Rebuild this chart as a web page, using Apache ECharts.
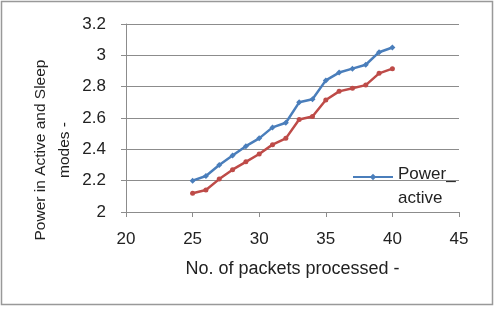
<!DOCTYPE html>
<html>
<head>
<meta charset="utf-8">
<script src="https://cdn.jsdelivr.net/npm/echarts@6/dist/echarts.min.js"></script>
<style>
    html, body { margin: 0; padding: 0; background: #fff; }
    #chart { width: 495px; height: 310px; }
</style>
</head>
<body>
<div id="chart"></div>
<script>
// packets processed (x)
const packets = [25, 26, 27, 28, 29, 30, 31, 32, 33, 34, 35, 36, 37, 38, 39, 40]
// power values
const powerActive = [2.20, 2.23, 2.30, 2.36, 2.42, 2.47, 2.54, 2.57, 2.70, 2.72, 2.84, 2.89, 2.915, 2.94, 3.02, 3.05]
const powerSleep = [2.12, 2.14, 2.21, 2.27, 2.32, 2.37, 2.43, 2.47, 2.59, 2.61, 2.715, 2.77, 2.79, 2.81, 2.885, 2.915]

const FONT = 'Liberation Sans'
const FS = 17
const TXT = '#222'

function pairs(xs, ys) {
    return xs.map((x, i) => [x, ys[i]])
}

let myChart = echarts.init(document.getElementById('chart'))

let option = {
    animation: false,
    textStyle: { fontFamily: FONT },
    graphic: [{
        type: 'rect',
        shape: { x: 1.5, y: 1.5, width: 491, height: 303 },
        style: { fill: 'none', stroke: '#999', lineWidth: 1.5 },
        silent: true
    }],
    grid: { left: 126, right: 36, top: 24, bottom: 98, outerBoundsMode: 'none' },
    legend: {
        data: ['Power_active'],
        left: 347,
        top: 143,
        itemWidth: 40,
        itemHeight: 8,
        itemGap: 4,
        // 图例文字折成两行, 第一行与图标对齐
        formatter: () => '{e| }\n{p|Power_}\n{p|active}',
        textStyle: {
            fontFamily: FONT, fontSize: FS, color: TXT,
            rich: {
                e: { lineHeight: 18, fontSize: 10 },
                p: { lineHeight: 24, fontSize: FS, fontFamily: FONT, color: TXT }
            }
        }
    },
    xAxis: {
        type: 'value',
        min: 20,
        max: 45,
        interval: 5,
        name: 'No. of packets processed -',
        nameLocation: 'middle',
        nameGap: 48,
        nameMoveOverlap: false,
        nameTextStyle: { fontFamily: FONT, fontSize: 18, color: TXT },
        axisLine: { lineStyle: { color: '#8c8c8c', width: 1 } },
        axisTick: { length: 5, lineStyle: { color: '#8c8c8c' } },
        axisLabel: { fontFamily: FONT, fontSize: FS, color: TXT, margin: 19 },
        splitLine: { show: false }
    },
    yAxis: {
        type: 'value',
        min: 2,
        max: 3.2,
        interval: 0.2,
        name: 'Power in Active and Sleep\nmodes -',
        nameLocation: 'middle',
        nameGap: 49,
        nameMoveOverlap: false,
        nameTextStyle: {
            fontFamily: FONT, fontSize: 15.5, color: TXT,
            lineHeight: 24, padding: [0, 64, 0, 0]
        },
        axisLine: { show: true, lineStyle: { color: '#8c8c8c', width: 1 } },
        axisTick: { show: true, length: 5, lineStyle: { color: '#8c8c8c' } },
        axisLabel: {
            fontFamily: FONT, fontSize: FS, color: TXT, margin: 20,
            formatter: v => String(Math.round(v * 10) / 10)
        },
        splitLine: { lineStyle: { color: '#8c8c8c', width: 1 } }
    },
    series: [
        {
            name: 'Power_active',
            type: 'line',
            data: pairs(packets, powerActive),
            symbol: 'diamond',
            symbolSize: 6,
            itemStyle: { color: '#4a7ebb' },
            lineStyle: { color: '#4a7ebb', width: 2.5 }
        },
        {
            name: 'Power_sleep',
            type: 'line',
            data: pairs(packets, powerSleep),
            symbol: 'circle',
            symbolSize: 5,
            itemStyle: { color: '#be4b48' },
            lineStyle: { color: '#be4b48', width: 2.5 }
        }
    ]
}

myChart.setOption(option)
</script>
</body>
</html>
